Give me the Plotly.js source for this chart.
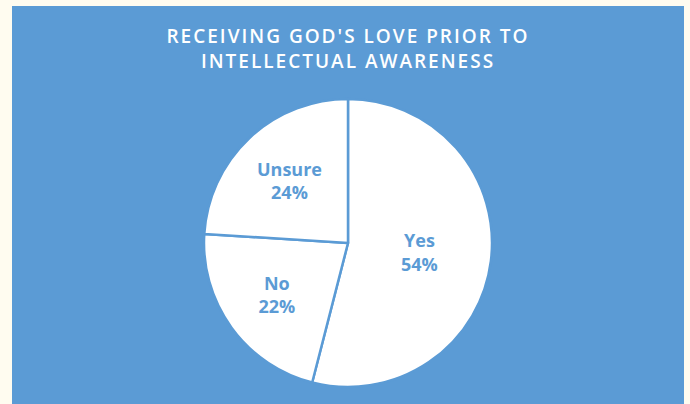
<!DOCTYPE html>
<html>
<head>
<meta charset="utf-8">
<script src="https://cdn.plot.ly/plotly-3.0.1.min.js"></script>
<style>
html,body{margin:0;padding:0;background:#FFFCF0;}
#chart{width:690px;height:404px;}
#chart .gtitle{letter-spacing:2px;}
</style>
</head>
<body>
<div id="chart"></div>
<script>
const categories = ["Yes", "No", "Unsure"];
const values = [54, 22, 24];
const titleText = "RECEIVING GOD'S LOVE PRIOR TO<br>INTELLECTUAL AWARENESS";

const W = 690, H = 404;
const blue = "#5B9BD5";

const data = [{
  type: "pie",
  labels: categories,
  values: values,
  sort: false,
  direction: "clockwise",
  rotation: 0,
  marker: { colors: ["#FFFFFF", "#FFFFFF", "#FFFFFF"], line: { color: blue, width: 2.5 } },
  texttemplate: "%{label}<br>%{percent:.0%}",
  textposition: "inside",
  insidetextorientation: "horizontal",
  textfont: { family: "Open Sans", size: 18, color: blue, weight: "bold" },
  hoverinfo: "none",
  showlegend: false,
  domain: { x: [204 / W, 492 / W], y: [(H - 387) / H, (H - 99) / H] }
}];

const layout = {
  width: W, height: H,
  margin: { l: 0, r: 0, t: 0, b: 0 },
  paper_bgcolor: "#FFFCF0",
  showlegend: false,
  title: {
    text: titleText,
    font: { family: "Open Sans", size: 19, color: "#FFFFFF", weight: 600 },
    x: 348 / W, xanchor: "center",
    y: 1 - 43 / H, yanchor: "middle"
  },
  shapes: [{
    type: "rect", xref: "paper", yref: "paper", layer: "below",
    x0: 12 / W, x1: 684 / W, y0: 0, y1: (H - 6) / H,
    fillcolor: blue, line: { width: 0 }
  }]
};

Plotly.newPlot("chart", data, layout, { displayModeBar: false, staticPlot: true });
</script>
</body>
</html>
